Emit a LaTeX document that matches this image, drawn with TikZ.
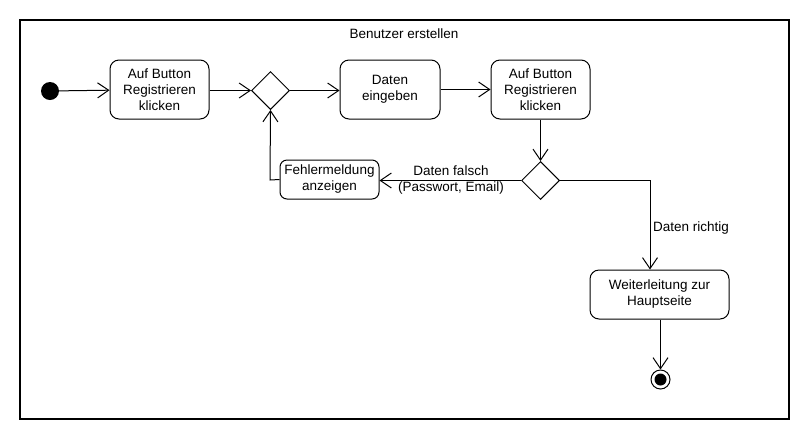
\documentclass[tikz,border=0pt]{standalone}
\usepackage{fontspec}
\setmainfont{Liberation Sans}
\usetikzlibrary{arrows.meta,shapes.geometric}
\tikzset{
  act/.style={draw, rounded corners=9pt, line width=1pt, align=center, inner sep=0pt,
    font=\fontsize{13.5}{16}\selectfont},
  dec/.style={draw, diamond, line width=1pt, minimum width=38pt, minimum height=38pt, inner sep=0pt},
  flow/.style={line width=1pt, -{Straight Barb[length=11pt,width=15pt,line width=1pt]}},
  lbl/.style={font=\fontsize{13.5}{16}\selectfont, inner sep=0pt, align=center},
}
\begin{document}
\begin{tikzpicture}[x=1pt,y=-1pt]
\useasboundingbox (0,0) rectangle (810,440);
\draw[line width=1.3pt] (20,20) rectangle (789,419);
\node[lbl] (title) at (404,33.5) {Benutzer erstellen};
\node[circle, fill=black, minimum size=18pt, inner sep=0pt] (start) at (50,91) {};
\node[act, minimum width=99pt, minimum height=59pt] (b1) at (159.5,89.5) {Auf Button\\Registrieren\\klicken};
\node[dec] (d1) at (270.5,90.5) {};
\node[act, minimum width=100pt, minimum height=59pt] (b2) at (390,89.5) {Daten\\eingeben};
\node[act, minimum width=99pt, minimum height=59pt] (b3) at (540.5,89.5) {Auf Button\\Registrieren\\klicken};
\node[dec] (d2) at (540.5,180.5) {};
\node[act, rounded corners=7pt, minimum width=99pt, minimum height=39pt] (err) at (329.5,179.5) {Fehlermeldung\\anzeigen};
\node[act, minimum width=139pt, minimum height=49pt] (w) at (659.5,294.5) {Weiterleitung zur\\Hauptseite};
\node[circle, draw, line width=1pt, minimum size=19pt, inner sep=0pt] (end) at (660.5,379.5) {};
\node[circle, fill=black, minimum size=12pt, inner sep=0pt] at (end) {};
\coordinate (c1) at (270,180);
\coordinate (c2) at (650,180.5);
\draw[flow] (start) -- (b1);
\draw[flow] (b1.east |- d1) -- (d1.west);
\draw[flow] (d1.east) -- (b2.west |- d1);
\draw[flow] (b2) -- (b3);
\draw[flow] (b3.south) -- (d2.north);
\draw[flow] (d2.west) -- (err.east |- d2.west);
\draw[flow] (err.west) -- (c1) -- (d1.south);
\draw[flow] (d2.east) -- (c2) -- (c2 |- w.north);
\draw[flow] (w.south -| end) -- (end);
\node[lbl] (lf) at (451,180) {Daten falsch\\(Passwort, Email)};
\node[lbl, anchor=west] (lr) at (653,228) {Daten richtig};
\end{tikzpicture}
\end{document}
